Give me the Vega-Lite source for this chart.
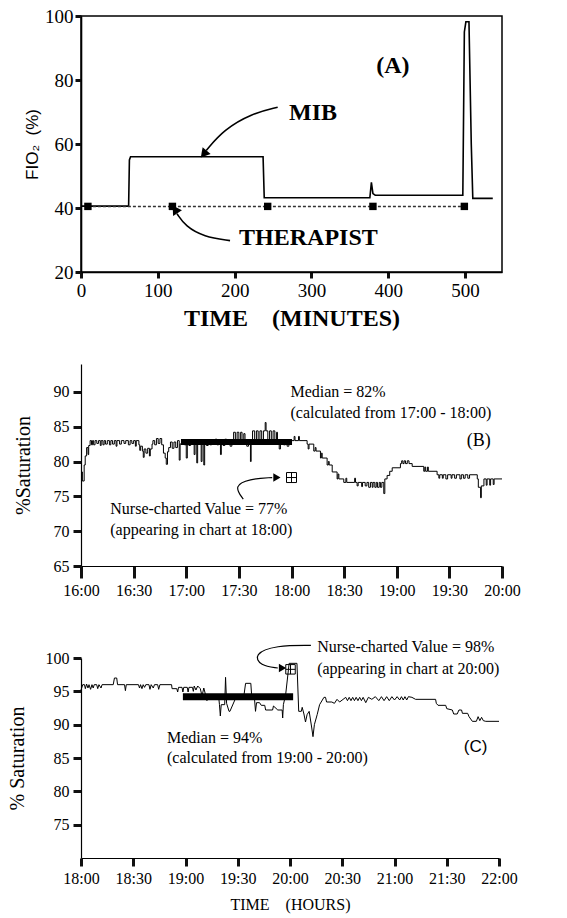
{
  "$schema": "https://vega.github.io/schema/vega-lite/v6.json",
  "padding": {"left": 7, "top": 6, "right": 5, "bottom": 2},
  "bounds": "flush",
  "spacing": 92,
  "config": {
    "font": "Liberation Serif",
    "view": {"stroke": null},
    "axis": {"grid": false, "ticks": true, "domainColor": "black", "tickColor": "#111111", "tickOpacity": 1, "labelColor": "black", "titleColor": "black", "labelFont": "Liberation Serif", "titleFont": "Liberation Serif", "titleFontWeight": "normal", "domainWidth": 1.2, "tickWidth": 3, "labelOverlap": false, "labelFlush": false}
  },
  "vconcat": [
    {
      "width": 421,
      "height": 256,
      "view": {"stroke": "black", "strokeWidth": 1.5},
      "encoding": {
        "x": {"field": "t", "type": "quantitative", "scale": {"domain": [0, 548], "nice": false, "zero": false},
          "axis": {"title": "TIME\u00a0\u00a0\u00a0\u00a0(MINUTES)", "titleFontSize": 24, "titleFontWeight": "bold", "titlePadding": 6,
            "values": [0, 100, 200, 300, 400, 500],
            "labelFontSize": 19, "labelPadding": 3, "labelFlush": false,
            "ticks": true, "tickSize": 6, "tickColor": "#111111", "tickOpacity": 1, "tickWidth": 3,
            "domainWidth": 1.6}},
        "y": {"field": "v", "type": "quantitative", "scale": {"domain": [20, 100], "nice": false, "zero": false},
          "axis": {"title": "FIO\u2082\u00a0\u00a0(%)", "titleFont": "Liberation Sans", "titleFontSize": 17, "titlePadding": 3,
            "values": [20, 40, 60, 80, 100],
            "labelFontSize": 19, "labelPadding": 2, "labelFlush": false,
            "ticks": true, "tickSize": 6, "tickColor": "#111111", "tickOpacity": 1, "tickWidth": 3,
            "domainWidth": 1.6}}
      },
      "layer": [
        {
          "data": {"values": [
            {"t": 0, "v": 40.6}, {"t": 62, "v": 40.6}, {"t": 63, "v": 55}, {"t": 64.5, "v": 56}, {"t": 237, "v": 56},
            {"t": 238.5, "v": 43.2}, {"t": 376, "v": 43.2}, {"t": 378, "v": 48}, {"t": 380, "v": 44.5}, {"t": 383, "v": 44},
            {"t": 497, "v": 44}, {"t": 499, "v": 95}, {"t": 501, "v": 98.2}, {"t": 505, "v": 98.2}, {"t": 508, "v": 60},
            {"t": 510, "v": 43}, {"t": 536, "v": 43}
          ]},
          "mark": {"type": "line", "color": "black", "strokeWidth": 1.6}
        },
        {
          "data": {"values": [
            {"t": 9, "v": 40.5}, {"t": 119, "v": 40.5}, {"t": 243, "v": 40.5}, {"t": 380, "v": 40.5}, {"t": 499, "v": 40.5}
          ]},
          "layer": [
            {"mark": {"type": "line", "color": "#333", "strokeWidth": 1.5, "strokeDash": [3, 2]}},
            {"mark": {"type": "point", "shape": "square", "filled": true, "color": "black", "size": 55, "opacity": 1}}
          ]
        },
        {
          "data": {"values": [
            {"i": 0, "t": 256, "v": 71.5}, {"i": 1, "t": 222, "v": 69.5}, {"i": 2, "t": 186, "v": 64.5}, {"i": 3, "t": 163, "v": 58}
          ]},
          "mark": {"type": "line", "color": "black", "strokeWidth": 1.6, "interpolate": "basis"},
          "encoding": {"order": {"field": "i", "type": "quantitative"}}
        },
        {
          "data": {"values": [
            {"i": 0, "t": 194, "v": 29.8}, {"i": 1, "t": 160, "v": 31}, {"i": 2, "t": 136, "v": 34.3}, {"i": 3, "t": 125, "v": 38.2}
          ]},
          "mark": {"type": "line", "color": "black", "strokeWidth": 1.6, "interpolate": "basis"},
          "encoding": {"order": {"field": "i", "type": "quantitative"}}
        },
        {
          "data": {"values": [{"t": 161, "v": 57.2}]},
          "mark": {"type": "point", "shape": "triangle", "filled": true, "color": "black", "size": 110, "angle": 220, "opacity": 1}
        },
        {
          "data": {"values": [{"t": 123.5, "v": 39.2}]},
          "mark": {"type": "point", "shape": "triangle", "filled": true, "color": "black", "size": 110, "angle": 327, "opacity": 1}
        },
        {
          "data": {"values": [
            {"t": 406, "v": 84.5, "label": "(A)"}, {"t": 302, "v": 69.6, "label": "MIB"}
          ]},
          "mark": {"type": "text", "font": "Liberation Serif", "fontSize": 24, "fontWeight": "bold", "align": "center", "baseline": "middle", "color": "black"},
          "encoding": {"text": {"field": "label"}}
        },
        {
          "data": {"values": [{"t": 296, "v": 30.5, "label": "THERAPIST"}]},
          "mark": {"type": "text", "font": "Liberation Serif", "fontSize": 24, "fontWeight": "bold", "align": "center", "baseline": "middle", "color": "black"},
          "encoding": {"text": {"field": "label"}}
        }
      ]
    },
    {
      "width": 421,
      "height": 202,
      "encoding": {
        "x": {"field": "t", "type": "quantitative", "scale": {"domain": [0, 240], "nice": false, "zero": false},
          "axis": {"title": null,
            "values": [0, 30, 60, 90, 120, 150, 180, 210, 240],
            "labelExpr": "(16 + floor(datum.value / 60)) + ':' + (datum.value % 60 == 0 ? '00' : '30')",
            "labelFontSize": 16, "labelPadding": 4, "labelFlush": false,
            "ticks": true, "tickSize": 12, "tickColor": "#111111", "tickOpacity": 1, "tickWidth": 3}},
        "y": {"field": "v", "type": "quantitative", "scale": {"domain": [65, 94], "nice": false, "zero": false},
          "axis": {"title": "%Saturation", "titleFontSize": 20, "titlePadding": 20,
            "values": [65, 70, 75, 80, 85, 90],
            "labelFontSize": 16, "labelPadding": 4, "labelFlush": false,
            "ticks": true, "tickSize": 8, "tickColor": "#111111", "tickOpacity": 1, "tickWidth": 3}}
      },
      "layer": [
        {
          "data": {"values": [
            {"t": 0, "v": 78.5}, {"t": 0.8, "v": 77.2}, {"t": 1.8, "v": 79.5}, {"t": 2.4, "v": 80.8}, {"t": 3.2, "v": 82}, {"t": 4, "v": 81}, {"t": 4.4, "v": 82.3}, {"t": 5.2, "v": 83}, {"t": 6, "v": 82.4}, {"t": 6.6, "v": 83}, {"t": 7.2, "v": 82.4}, {"t": 8, "v": 83}, {"t": 9, "v": 82.6}, {"t": 10, "v": 83}, {"t": 11, "v": 82.3}, {"t": 11.5, "v": 83}, {"t": 12.5, "v": 82.4}, {"t": 13.2, "v": 83}, {"t": 14, "v": 82.5}, {"t": 15, "v": 83}, {"t": 16.2, "v": 82.4}, {"t": 17, "v": 83}, {"t": 18, "v": 82.5}, {"t": 19, "v": 83}, {"t": 20, "v": 82.2}, {"t": 20.5, "v": 83}, {"t": 22, "v": 82.5}, {"t": 23, "v": 83}, {"t": 24.5, "v": 82.6}, {"t": 25.5, "v": 83}, {"t": 27, "v": 82.4}, {"t": 28, "v": 83}, {"t": 29, "v": 82.6}, {"t": 30, "v": 83}, {"t": 31, "v": 82.2}, {"t": 31.5, "v": 83}, {"t": 33, "v": 82.4}, {"t": 33.5, "v": 81.6}, {"t": 34, "v": 82.2}, {"t": 35, "v": 81.5}, {"t": 35.5, "v": 80.6}, {"t": 36, "v": 81.8}, {"t": 37, "v": 81.2}, {"t": 38, "v": 81.9}, {"t": 39, "v": 80.8}, {"t": 39.5, "v": 81.8}, {"t": 40.5, "v": 82.5}, {"t": 41, "v": 83}, {"t": 42, "v": 82.4}, {"t": 43, "v": 83.3}, {"t": 44, "v": 82.6}, {"t": 45, "v": 83.3}, {"t": 46, "v": 82.4}, {"t": 47, "v": 81.2}, {"t": 48, "v": 80.5}, {"t": 48.6, "v": 79.6}, {"t": 49.3, "v": 81.4}, {"t": 50, "v": 82}, {"t": 51, "v": 82.8}, {"t": 52, "v": 81.9}, {"t": 53, "v": 82.8}, {"t": 54, "v": 82}, {"t": 55, "v": 83}, {"t": 56, "v": 80.2}, {"t": 56.5, "v": 82.5}, {"t": 57, "v": 82.6}, {"t": 58, "v": 83}, {"t": 59, "v": 82.4}, {"t": 60, "v": 80.5}, {"t": 60.6, "v": 82.8}, {"t": 61.5, "v": 82.3}, {"t": 62.5, "v": 83}, {"t": 63.5, "v": 82.5}, {"t": 64.5, "v": 81}, {"t": 65, "v": 83}, {"t": 66, "v": 79.8}, {"t": 66.5, "v": 82.6}, {"t": 67.5, "v": 83}, {"t": 68.5, "v": 80}, {"t": 69, "v": 82.5}, {"t": 70, "v": 79.5}, {"t": 70.5, "v": 82.8}, {"t": 71.5, "v": 82.3}, {"t": 72.5, "v": 83.1}, {"t": 73.5, "v": 82.4}, {"t": 74.5, "v": 83}, {"t": 75.5, "v": 82.5}, {"t": 76.5, "v": 83.2}, {"t": 77.5, "v": 82.4}, {"t": 78.5, "v": 83}, {"t": 79.5, "v": 81}, {"t": 80, "v": 82.8}, {"t": 81, "v": 82.3}, {"t": 82, "v": 83.2}, {"t": 83, "v": 82.5}, {"t": 84, "v": 83}, {"t": 85, "v": 82.2}, {"t": 86, "v": 83}, {"t": 87, "v": 84.2}, {"t": 88, "v": 82.6}, {"t": 89, "v": 84.2}, {"t": 90, "v": 82.8}, {"t": 91, "v": 84.2}, {"t": 91.8, "v": 82.5}, {"t": 92.8, "v": 84}, {"t": 93.5, "v": 82.8}, {"t": 94.5, "v": 82.2}, {"t": 95.5, "v": 83}, {"t": 96.6, "v": 80}, {"t": 97, "v": 82.8}, {"t": 97.8, "v": 84.4}, {"t": 99, "v": 83}, {"t": 100, "v": 84.4}, {"t": 101, "v": 82.6}, {"t": 102, "v": 84.4}, {"t": 103, "v": 83}, {"t": 104, "v": 84.4}, {"t": 105, "v": 85.6}, {"t": 105.5, "v": 84.4}, {"t": 106.5, "v": 82.8}, {"t": 107.5, "v": 84.4}, {"t": 108.5, "v": 83}, {"t": 109.5, "v": 84.4}, {"t": 110.5, "v": 82.6}, {"t": 111.5, "v": 84.2}, {"t": 112, "v": 82.8}, {"t": 113, "v": 81.8}, {"t": 113.7, "v": 82.8}, {"t": 114.5, "v": 83}, {"t": 115.5, "v": 82.4}, {"t": 116.5, "v": 83}, {"t": 117.5, "v": 82.2}, {"t": 118.5, "v": 83}, {"t": 119.5, "v": 82.6}, {"t": 120, "v": 83}, {"t": 121.5, "v": 83.6}, {"t": 122, "v": 83}, {"t": 124, "v": 83.6}, {"t": 124.5, "v": 83}, {"t": 128.9, "v": 82.5}, {"t": 129.5, "v": 81.8}, {"t": 130, "v": 82.5}, {"t": 132.7, "v": 81.5}, {"t": 133.5, "v": 82}, {"t": 134, "v": 81.5}, {"t": 136.5, "v": 80.5}, {"t": 137, "v": 81.2}, {"t": 137.5, "v": 80.5}, {"t": 140.3, "v": 79.5}, {"t": 141, "v": 80}, {"t": 141.5, "v": 79.5}, {"t": 143.2, "v": 78.5}, {"t": 146, "v": 77.5}, {"t": 146.5, "v": 78.2}, {"t": 147, "v": 77.5}, {"t": 149.8, "v": 77}, {"t": 151, "v": 77.6}, {"t": 151.5, "v": 77}, {"t": 156, "v": 77.6}, {"t": 156.5, "v": 77}, {"t": 157.4, "v": 76.5}, {"t": 158, "v": 77}, {"t": 160, "v": 76.4}, {"t": 160.5, "v": 77}, {"t": 162, "v": 76.5}, {"t": 163, "v": 77}, {"t": 164, "v": 76.3}, {"t": 165, "v": 77}, {"t": 166, "v": 76.3}, {"t": 166.5, "v": 77}, {"t": 167.5, "v": 76.3}, {"t": 168.3, "v": 77}, {"t": 169, "v": 76.3}, {"t": 170, "v": 77}, {"t": 170.7, "v": 76.3}, {"t": 171.5, "v": 77}, {"t": 172.6, "v": 75.4}, {"t": 173.2, "v": 77.5}, {"t": 174.5, "v": 78}, {"t": 176, "v": 78.6}, {"t": 177.4, "v": 79.1}, {"t": 182.1, "v": 79.7}, {"t": 182.8, "v": 80.1}, {"t": 183.5, "v": 79.7}, {"t": 184.2, "v": 80.1}, {"t": 185, "v": 79.7}, {"t": 186, "v": 80.1}, {"t": 187, "v": 79.7}, {"t": 188.8, "v": 79.3}, {"t": 195.4, "v": 78.6}, {"t": 196, "v": 79.2}, {"t": 196.5, "v": 78.6}, {"t": 197.5, "v": 79.2}, {"t": 198, "v": 78.6}, {"t": 203, "v": 78.1}, {"t": 204, "v": 77.6}, {"t": 204.5, "v": 78.1}, {"t": 206, "v": 77.6}, {"t": 206.5, "v": 78.1}, {"t": 208, "v": 77.5}, {"t": 209, "v": 78.1}, {"t": 211, "v": 77.6}, {"t": 211.5, "v": 78.1}, {"t": 213, "v": 77.6}, {"t": 214, "v": 78.1}, {"t": 216, "v": 77.5}, {"t": 216.8, "v": 78.1}, {"t": 218, "v": 77.6}, {"t": 219, "v": 78.1}, {"t": 220.5, "v": 77.6}, {"t": 221.5, "v": 78.1}, {"t": 225.9, "v": 77.5}, {"t": 226.5, "v": 76.3}, {"t": 227.8, "v": 74.8}, {"t": 228.2, "v": 76.5}, {"t": 229.7, "v": 77.5}, {"t": 231, "v": 76.6}, {"t": 231.5, "v": 77.5}, {"t": 233, "v": 76.6}, {"t": 233.5, "v": 77.5}, {"t": 235, "v": 76.7}, {"t": 235.5, "v": 77.5}, {"t": 240, "v": 77.5}
          ]},
          "mark": {"type": "line", "color": "black", "strokeWidth": 1, "interpolate": "step-after"}
        },
        {
          "data": {"values": [{"t": 57, "t2": 120.3, "v": 82.8}]},
          "mark": {"type": "rule", "color": "black", "strokeWidth": 6},
          "encoding": {"x2": {"field": "t2"}}
        },
        {
          "data": {"values": [{"t": 120, "v": 77.7}]},
          "mark": {"type": "point", "shape": "M-1,-1H1V1H-1Z M0,-1V1 M-1,0H1", "filled": false, "color": "black", "strokeWidth": 1, "size": 100, "opacity": 1}
        },
        {
          "data": {"values": [
            {"i": 0, "t": 92.5, "v": 74.6}, {"i": 1, "t": 87, "v": 76.5}, {"i": 2, "t": 96, "v": 77.5}, {"i": 3, "t": 109, "v": 77.7}
          ]},
          "mark": {"type": "line", "color": "black", "strokeWidth": 1.2, "interpolate": "basis"},
          "encoding": {"order": {"field": "i", "type": "quantitative"}}
        },
        {
          "data": {"values": [{"t": 111, "v": 77.7}]},
          "mark": {"type": "point", "shape": "triangle", "filled": true, "color": "black", "size": 70, "angle": 90, "opacity": 1}
        },
        {
          "data": {"values": [
            {"t": 119.4, "v": 90, "label": "Median = 82%"},
            {"t": 119.4, "v": 86.9, "label": "(calculated from 17:00 - 18:00)"},
            {"t": 16.7, "v": 73.2, "label": "Nurse-charted Value = 77%"},
            {"t": 16.7, "v": 70.1, "label": "(appearing in chart at 18:00)"}
          ]},
          "mark": {"type": "text", "font": "Liberation Serif", "fontSize": 16, "align": "left", "baseline": "middle", "color": "black"},
          "encoding": {"text": {"field": "label"}}
        },
        {
          "data": {"values": [{"t": 226.8, "v": 82.9, "label": "(B)"}]},
          "mark": {"type": "text", "font": "Liberation Serif", "fontSize": 18, "align": "center", "baseline": "middle", "color": "black"},
          "encoding": {"text": {"field": "label"}}
        }
      ]
    },
    {
      "width": 418,
      "height": 200,
      "encoding": {
        "x": {"field": "t", "type": "quantitative", "scale": {"domain": [0, 240], "nice": false, "zero": false},
          "axis": {"title": "TIME\u00a0\u00a0\u00a0\u00a0(HOURS)", "titleFontSize": 16, "titlePadding": 10,
            "values": [0, 30, 60, 90, 120, 150, 180, 210, 240],
            "labelExpr": "(18 + floor(datum.value / 60)) + ':' + (datum.value % 60 == 0 ? '00' : '30')",
            "labelFontSize": 16, "labelPadding": 4, "labelFlush": false,
            "ticks": true, "tickSize": 8, "tickColor": "#111111", "tickOpacity": 1, "tickWidth": 3}},
        "y": {"field": "v", "type": "quantitative", "scale": {"domain": [70, 100], "nice": false, "zero": false},
          "axis": {"title": "% Saturation", "titleFontSize": 20, "titlePadding": 18,
            "values": [75, 80, 85, 90, 95, 100],
            "labelFontSize": 16, "labelPadding": 4, "labelFlush": false,
            "ticks": true, "tickSize": 8, "tickColor": "#111111", "tickOpacity": 1, "tickWidth": 3}}
      },
      "layer": [
        {
          "data": {"values": [
            {"t": 0, "v": 95.2}, {"t": 1, "v": 96}, {"t": 2, "v": 96}, {"t": 2.5, "v": 95.4}, {"t": 3.2, "v": 96.1}, {"t": 4, "v": 95.5}, {"t": 4.6, "v": 96}, {"t": 5.5, "v": 95.3}, {"t": 6.3, "v": 96}, {"t": 7, "v": 95.5}, {"t": 7.6, "v": 96}, {"t": 9, "v": 96}, {"t": 9.6, "v": 95.4}, {"t": 10.3, "v": 96}, {"t": 11.5, "v": 95.5}, {"t": 12.1, "v": 96}, {"t": 18.5, "v": 96}, {"t": 19.2, "v": 97}, {"t": 20.5, "v": 97}, {"t": 21, "v": 96}, {"t": 25, "v": 96}, {"t": 25.5, "v": 95.1}, {"t": 26, "v": 96}, {"t": 33, "v": 96}, {"t": 33.6, "v": 95.5}, {"t": 34.2, "v": 96}, {"t": 35, "v": 95.4}, {"t": 35.7, "v": 96}, {"t": 36.5, "v": 95.6}, {"t": 37.2, "v": 96}, {"t": 39, "v": 96}, {"t": 39.6, "v": 95.3}, {"t": 40.3, "v": 96}, {"t": 41.5, "v": 95.5}, {"t": 42.2, "v": 96}, {"t": 44, "v": 96}, {"t": 44.6, "v": 95.3}, {"t": 45.3, "v": 96}, {"t": 52, "v": 96}, {"t": 52.3, "v": 95.4}, {"t": 55, "v": 95.4}, {"t": 55.5, "v": 94.9}, {"t": 56, "v": 95.6}, {"t": 58, "v": 95.6}, {"t": 58.5, "v": 94.9}, {"t": 59, "v": 95.6}, {"t": 61, "v": 95.6}, {"t": 61.5, "v": 94.9}, {"t": 62, "v": 95.6}, {"t": 64, "v": 95.6}, {"t": 64.5, "v": 95}, {"t": 65, "v": 95.8}, {"t": 66, "v": 95.2}, {"t": 67, "v": 95.8}, {"t": 68.5, "v": 95.4}, {"t": 69.5, "v": 94.3}, {"t": 70.5, "v": 95.5}, {"t": 71.5, "v": 94.5}, {"t": 72.3, "v": 93.6}, {"t": 73, "v": 94.5}, {"t": 79, "v": 94.3}, {"t": 79.5, "v": 93}, {"t": 80, "v": 91.3}, {"t": 80.5, "v": 93}, {"t": 82.5, "v": 93}, {"t": 83, "v": 97.1}, {"t": 83.6, "v": 93.2}, {"t": 85, "v": 92}, {"t": 85.5, "v": 92}, {"t": 88.5, "v": 93.8}, {"t": 89, "v": 94.3}, {"t": 93.5, "v": 94.3}, {"t": 94.5, "v": 96.2}, {"t": 97.5, "v": 96.2}, {"t": 98, "v": 94.3}, {"t": 99.5, "v": 94.3}, {"t": 100.2, "v": 92}, {"t": 100.8, "v": 93.3}, {"t": 102.5, "v": 93.3}, {"t": 103.5, "v": 92.9}, {"t": 105.5, "v": 92.9}, {"t": 106, "v": 92.2}, {"t": 110, "v": 92.2}, {"t": 110.5, "v": 92.8}, {"t": 113, "v": 92.2}, {"t": 115.5, "v": 92.2}, {"t": 115.8, "v": 91}, {"t": 116.2, "v": 93}, {"t": 117.5, "v": 94.5}, {"t": 119.5, "v": 99.2}, {"t": 124, "v": 99.2}, {"t": 125, "v": 92}, {"t": 126.5, "v": 92}, {"t": 127, "v": 92.6}, {"t": 128, "v": 91.6}, {"t": 128.9, "v": 90.4}, {"t": 129.8, "v": 91.5}, {"t": 131, "v": 92}, {"t": 132.5, "v": 89.5}, {"t": 133.2, "v": 88.2}, {"t": 134, "v": 90}, {"t": 135.6, "v": 91.5}, {"t": 137, "v": 93}, {"t": 139.5, "v": 94.1}, {"t": 140.4, "v": 94.1}, {"t": 141, "v": 93.4}, {"t": 144, "v": 93.4}, {"t": 145.5, "v": 93.2}, {"t": 147, "v": 93.8}, {"t": 148.5, "v": 93.4}, {"t": 152, "v": 94.1}, {"t": 153, "v": 93.6}, {"t": 154, "v": 94.1}, {"t": 155, "v": 93.6}, {"t": 156, "v": 94.1}, {"t": 157, "v": 93.6}, {"t": 158, "v": 94.1}, {"t": 159, "v": 93.6}, {"t": 160, "v": 94.1}, {"t": 161, "v": 93.6}, {"t": 162, "v": 94.1}, {"t": 163.5, "v": 93.3}, {"t": 165, "v": 94.1}, {"t": 167, "v": 93.8}, {"t": 169, "v": 94.2}, {"t": 171, "v": 93.6}, {"t": 172.5, "v": 94.2}, {"t": 174, "v": 93.6}, {"t": 175.5, "v": 94.2}, {"t": 177, "v": 93.6}, {"t": 178.5, "v": 94.2}, {"t": 180, "v": 93.7}, {"t": 181.5, "v": 94.2}, {"t": 183, "v": 93.7}, {"t": 184, "v": 94.2}, {"t": 185, "v": 93.7}, {"t": 186, "v": 94.2}, {"t": 187, "v": 93.7}, {"t": 188, "v": 94.2}, {"t": 190, "v": 94.1}, {"t": 192.1, "v": 93.8}, {"t": 203.6, "v": 93.8}, {"t": 204, "v": 93.2}, {"t": 205, "v": 92.9}, {"t": 209.4, "v": 92.9}, {"t": 210, "v": 92.4}, {"t": 213.2, "v": 92.2}, {"t": 214, "v": 91.6}, {"t": 216, "v": 91.6}, {"t": 217, "v": 92.2}, {"t": 218.5, "v": 92.2}, {"t": 219, "v": 91.7}, {"t": 222, "v": 91.7}, {"t": 222.8, "v": 91.2}, {"t": 224.7, "v": 90.5}, {"t": 227, "v": 90.5}, {"t": 228, "v": 91.2}, {"t": 229, "v": 90.6}, {"t": 230, "v": 91.1}, {"t": 231, "v": 90.6}, {"t": 232.4, "v": 90.5}, {"t": 240, "v": 90.5}
          ]},
          "mark": {"type": "line", "color": "black", "strokeWidth": 1}
        },
        {
          "data": {"values": [{"t": 58.5, "t2": 121.8, "v": 94.2}]},
          "mark": {"type": "rule", "color": "black", "strokeWidth": 7},
          "encoding": {"x2": {"field": "t2"}}
        },
        {
          "data": {"values": [{"t": 120.3, "v": 98.3}]},
          "mark": {"type": "point", "shape": "M-1,-1H1V1H-1Z M0,-1V1 M-1,0H1", "filled": false, "color": "black", "strokeWidth": 1, "size": 90, "opacity": 1}
        },
        {
          "data": {"values": [
            {"i": 0, "t": 132, "v": 101.9}, {"i": 1, "t": 112, "v": 101.9}, {"i": 2, "t": 99, "v": 100.6}, {"i": 3, "t": 103, "v": 98.8}, {"i": 4, "t": 113, "v": 98.5}
          ]},
          "mark": {"type": "line", "color": "black", "strokeWidth": 1.2, "interpolate": "basis"},
          "encoding": {"order": {"field": "i", "type": "quantitative"}}
        },
        {
          "data": {"values": [{"t": 115, "v": 98.5}]},
          "mark": {"type": "point", "shape": "triangle", "filled": true, "color": "black", "size": 70, "angle": 90, "opacity": 1}
        },
        {
          "data": {"values": [
            {"t": 135.6, "v": 101.6, "label": "Nurse-charted Value = 98%"},
            {"t": 135.6, "v": 98.4, "label": "(appearing in chart at 20:00)"},
            {"t": 49.4, "v": 88, "label": "Median = 94%"},
            {"t": 49.4, "v": 85, "label": "(calculated from 19:00 - 20:00)"}
          ]},
          "mark": {"type": "text", "font": "Liberation Serif", "fontSize": 16, "align": "left", "baseline": "middle", "color": "black"},
          "encoding": {"text": {"field": "label"}}
        },
        {
          "data": {"values": [{"t": 226.6, "v": 86.7, "label": "(C)"}]},
          "mark": {"type": "text", "font": "Liberation Sans", "fontSize": 17, "align": "center", "baseline": "middle", "color": "black"},
          "encoding": {"text": {"field": "label"}}
        }
      ]
    }
  ]
}
